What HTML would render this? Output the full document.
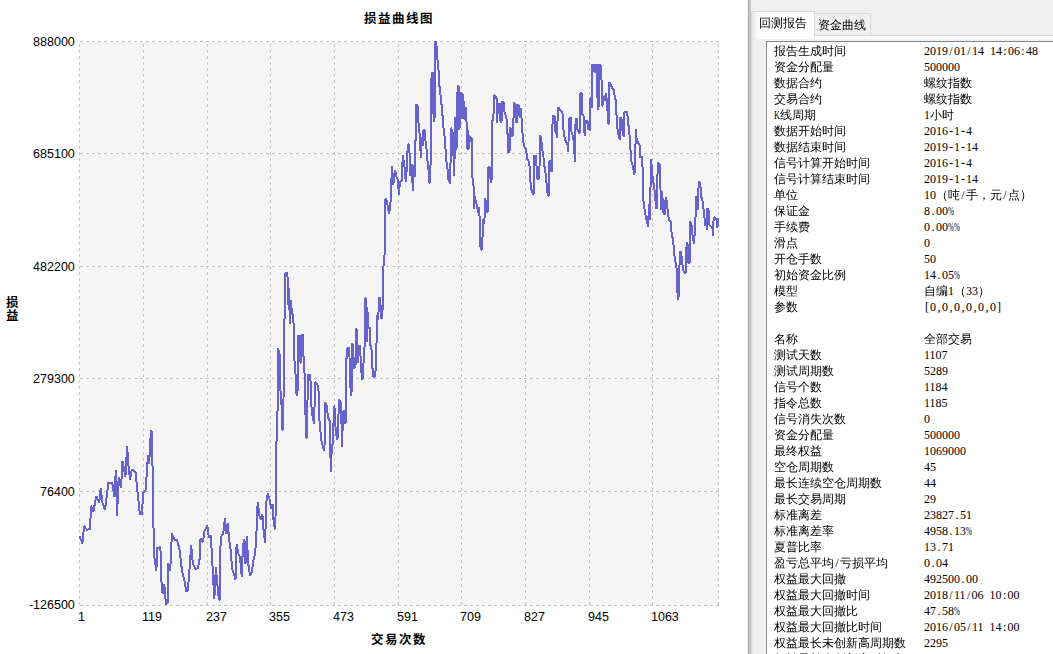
<!DOCTYPE html>
<html lang="zh-CN"><head><meta charset="utf-8"><title>损益曲线图</title>
<style>
html,body{margin:0;padding:0;background:#fff;}
body{width:1053px;height:654px;position:relative;overflow:hidden;font-family:"Liberation Sans","Noto Sans CJK SC",sans-serif;color:#000;}
.chart{position:absolute;left:0;top:0;}
.t{position:absolute;white-space:nowrap;}
.yl{font-size:12.5px;line-height:14px;height:14px;width:60px;text-align:right;left:14.8px;}
.xl{font-size:12.5px;line-height:14px;height:14px;top:610px;}
.ttl{font-family:"Liberation Sans","Noto Sans CJK SC",sans-serif;font-weight:700;font-size:12.5px;letter-spacing:1.5px;line-height:14px;}
.split{position:absolute;left:748px;top:0;width:3px;height:654px;background:linear-gradient(90deg,#a4a4a4 0,#a4a4a4 1px,#c4c4c4 1px,#c9c9c9 3px);}
.panel{position:absolute;left:751px;top:0;width:302px;height:654px;background:#f0f0f0;overflow:hidden;font-family:"Liberation Serif","WenQuanYi Zen Hei","Noto Serif CJK SC",serif;font-size:12px;}
.pane{position:absolute;left:0;top:35px;width:400px;height:700px;background:linear-gradient(90deg,#e2e2e2 0,#f1f1f1 3px,#f8f8f8 5px,#fff 10px);border:1px solid #dadada;box-sizing:border-box;}
.tab{position:absolute;box-sizing:border-box;border:1px solid #d9d9d9;border-bottom:none;white-space:nowrap;line-height:12px;}
.tab.sel{left:0;top:11px;width:64px;height:26px;background:linear-gradient(90deg,#e6e6e6 0,#f6f6f6 4px,#fff 10px);padding:5px 0 0 7px;z-index:2;}
.tab.off{left:63px;top:13px;width:57px;height:22px;background:#f0f0f0;padding:5px 0 0 3px;}
.dlg{position:absolute;left:4px;top:39px;width:400px;height:700px;background:#f0f0f0;}
.list{position:absolute;left:15px;top:41px;width:400px;height:700px;background:#fff;border:1px solid #828790;box-sizing:border-box;}
.row{position:absolute;left:7px;height:16px;line-height:16px;white-space:nowrap;}
.row span{position:absolute;left:150px;top:0;}
.row b{font-weight:normal;}
.row i{display:inline-block;width:6px;text-align:center;font-style:normal;}
.row i.n{transform:scaleX(.6);transform-origin:0 50%;text-align:left;}
.row i.m{transform:scaleX(.7);transform-origin:0 50%;text-align:left;}
</style></head><body>
<svg class="chart" width="748" height="654" viewBox="0 0 748 654">
<rect x="80" y="42" width="638" height="563" fill="#f5f5f5"/>
<path d="M79.5 605V41M143.5 605V41M207.5 605V41M270.5 605V41M334.5 605V41M398.5 605V41M461.5 605V41M525.5 605V41M589.5 605V41M652.5 605V41M718.5 605V41M80 41.5H719M80 153.5H719M80 266.5H719M80 378.5H719M80 491.5H719M80 605.5H719" fill="none" stroke="#fff" stroke-width="1" shape-rendering="crispEdges"/>
<path d="M79.5 605V41M143.5 605V41M207.5 605V41M270.5 605V41M334.5 605V41M398.5 605V41M461.5 605V41M525.5 605V41M589.5 605V41M652.5 605V41M718.5 605V41M80 41.5H719M80 153.5H719M80 266.5H719M80 378.5H719M80 491.5H719M80 605.5H719" fill="none" stroke="#c4c4c4" stroke-width="1" stroke-dasharray="3 3" shape-rendering="crispEdges"/>
<path d="M79.5 536.2 L82.4 543.5 L84.1 526.0 L87.0 529.8 L90.0 529.0 L91.1 505.7 L93.4 511.5 L96.3 496.1 L99.2 502.8 L100.7 488.3 L102.7 504.3 L105.0 509.5 L108.5 482.5 L112.3 483.3 L114.6 497.0 L115.8 470.0 L117.0 515.9 L118.7 476.7 L121.0 488.3 L122.5 460.7 L125.4 476.7 L127.1 446.1 L128.3 463.6 L130.0 479.6 L131.8 469.4 L135.6 472.3 L137.6 492.6 L139.9 514.4 L141.7 514.4 L143.4 492.6 L145.7 489.7 L148.0 454.9 L149.2 463.6 L150.4 438.9 L151.5 430.2 L152.7 472.3 L153.0 500.0 L153.4 523.5 L154.2 555.5 L156.4 570.6 L157.1 547.9 L160.4 547.1 L161.4 580.7 L162.6 594.2 L164.3 584.1 L166.0 604.3 L167.7 602.6 L168.2 563.1 L170.2 570.6 L171.9 533.6 L174.4 539.5 L176.9 539.5 L179.4 548.8 L182.0 570.6 L184.5 580.7 L186.2 591.7 L187.8 590.8 L189.0 576.5 L191.2 545.4 L192.9 563.9 L195.4 569.0 L197.9 568.1 L199.6 558.9 L200.5 538.7 L203.0 542.0 L204.2 532.0 L207.2 525.2 L208.9 537.8 L210.6 535.3 L211.9 553.8 L213.1 577.4 L214.3 599.2 L215.9 567.3 L217.3 584.1 L219.0 600.1 L219.8 599.2 L220.3 548.8 L221.5 536.2 L223.2 533.6 L224.9 518.5 L226.5 533.6 L227.7 522.7 L229.1 538.7 L230.7 550.5 L232.1 569.0 L234.1 574.9 L235.5 579.9 L236.6 543.7 L238.3 553.8 L240.0 557.2 L241.7 576.5 L242.9 547.1 L244.2 539.5 L245.5 563.9 L246.7 536.2 L248.4 564.8 L250.1 575.7 L251.8 572.3 L253.4 560.6 L255.1 553.8 L256.3 536.2 L257.7 501.7 L259.3 515.1 L261.0 520.2 L262.4 514.3 L263.5 530.3 L265.2 542.9 L266.1 503.1 L267.8 493.5 L269.7 499.9 L271.0 508.5 L272.5 504.2 L273.5 520.0 L274.8 529.4 L275.5 519.0 L275.7 491.3 L276.1 448.5 L277.4 423.9 L277.8 380.0 L278.0 348.5 L279.5 353.4 L280.3 390.0 L281.3 395.0 L282.1 430.3 L283.2 429.2 L283.5 401.4 L283.7 370.3 L283.9 339.5 L284.9 305.7 L285.5 272.9 L286.9 272.9 L287.5 276.9 L288.3 304.7 L288.9 287.8 L289.9 323.6 L290.9 299.8 L291.9 313.7 L293.3 315.7 L293.9 335.5 L294.3 359.4 L295.4 367.3 L295.8 391.8 L297.2 396.1 L297.6 390.0 L297.8 335.5 L299.4 336.5 L299.8 357.4 L300.8 363.4 L301.4 335.5 L303.0 334.5 L303.4 356.4 L304.2 357.4 L304.8 387.2 L305.2 400.3 L306.0 437.8 L307.2 437.8 L307.6 390.0 L307.8 375.3 L310.2 374.3 L310.7 385.2 L311.7 412.1 L314.2 423.9 L315.0 382.1 L317.4 384.3 L318.9 392.8 L319.6 425.0 L321.7 442.1 L323.9 450.6 L324.6 444.2 L324.9 402.5 L326.6 405.7 L328.1 417.5 L329.6 420.7 L330.3 450.6 L330.9 472.1 L331.8 446.4 L333.1 443.2 L333.9 405.7 L335.2 410.0 L335.6 431.4 L337.3 439.9 L338.2 431.4 L338.8 399.3 L341.0 403.6 L342.1 447.4 L342.7 423.9 L343.1 412.1 L344.2 410.0 L345.3 423.9 L345.7 422.8 L345.9 359.4 L347.1 358.4 L347.5 348.5 L349.1 347.5 L349.5 357.4 L350.3 385.0 L351.0 396.0 L351.7 390.0 L351.9 343.5 L353.1 344.5 L353.9 368.3 L355.5 367.3 L355.9 328.6 L357.1 329.6 L357.9 363.4 L358.5 345.5 L359.8 345.5 L361.0 363.4 L361.8 379.3 L363.0 378.3 L363.4 363.4 L364.4 359.4 L365.0 297.8 L366.4 298.8 L367.0 341.5 L367.8 311.7 L368.4 327.6 L369.8 327.6 L370.4 345.5 L371.4 347.5 L372.4 367.3 L373.4 377.3 L375.3 376.3 L376.3 350.4 L377.3 314.7 L378.3 319.6 L378.9 297.8 L380.3 297.8 L380.9 318.6 L382.3 317.6 L382.9 296.8 L383.3 268.0 L384.0 260.3 L384.8 252.3 L385.3 198.6 L386.9 200.6 L387.9 208.6 L389.3 213.5 L390.9 198.6 L391.9 165.8 L393.3 184.7 L394.9 169.8 L396.5 176.8 L397.9 179.8 L398.9 194.7 L399.8 182.7 L401.8 179.8 L402.8 154.9 L404.4 165.8 L405.8 181.7 L406.8 167.8 L407.8 144.0 L409.2 145.0 L410.4 175.8 L411.8 163.9 L412.8 190.7 L413.8 164.8 L414.6 176.8 L415.2 140.6 L416.1 139.8 L416.5 104.4 L417.5 105.3 L418.2 120.4 L419.3 130.5 L420.2 143.1 L420.8 157.9 L421.5 137.2 L422.7 146.0 L423.5 129.7 L424.6 129.7 L425.2 138.9 L426.6 150.0 L427.1 157.9 L428.3 165.8 L429.1 182.7 L430.3 182.7 L430.6 157.9 L431.0 115.4 L431.6 72.5 L433.0 73.3 L433.6 121.3 L434.5 120.4 L434.9 42.0 L436.3 42.2 L437.3 59.9 L438.4 60.7 L438.7 85.1 L440.0 87.6 L440.4 93.5 L442.1 110.3 L443.7 130.5 L445.4 142.3 L445.6 154.9 L447.6 169.8 L448.5 179.8 L450.1 183.7 L450.4 177.8 L450.8 128.0 L451.7 129.2 L453.1 134.7 L453.6 160.0 L454.0 175.8 L454.5 160.0 L455.1 117.5 L455.6 148.0 L456.0 118.0 L456.5 149.8 L457.0 117.0 L457.2 116.8 L457.6 85.8 L458.6 86.2 L459.0 94.8 L459.3 130.0 L459.8 96.0 L460.1 128.0 L460.4 92.0 L461.0 118.0 L461.5 92.5 L462.0 119.0 L462.5 93.0 L463.0 119.0 L463.4 94.8 L463.9 119.0 L464.3 106.5 L464.9 119.5 L465.4 107.0 L466.0 119.5 L466.3 107.2 L466.6 128.0 L467.0 148.9 L467.5 129.0 L468.0 149.5 L468.4 130.0 L468.9 149.0 L469.3 134.7 L469.8 141.6 L470.3 136.0 L470.9 141.6 L471.4 137.5 L471.9 141.6 L472.3 138.1 L472.5 177.8 L473.4 179.8 L474.0 208.6 L474.4 195.7 L476.4 203.6 L478.4 212.6 L479.4 207.6 L479.9 243.4 L481.3 250.3 L482.3 247.3 L482.9 219.5 L484.3 223.5 L485.3 197.6 L486.7 212.6 L487.9 211.6 L488.3 166.8 L489.9 167.8 L490.7 182.7 L491.7 178.8 L492.0 120.4 L493.4 119.6 L493.9 95.2 L495.2 96.0 L496.7 98.6 L497.2 122.9 L497.9 104.4 L499.6 103.6 L500.6 122.9 L501.5 122.1 L501.8 101.9 L503.7 101.9 L504.6 112.9 L506.4 117.5 L507.3 128.5 L508.3 152.4 L509.5 151.5 L510.1 127.6 L511.4 129.4 L511.9 136.8 L513.2 135.0 L513.8 102.8 L515.6 103.8 L516.1 123.0 L517.4 121.2 L517.8 104.7 L519.3 106.5 L519.8 118.4 L520.6 108.3 L521.7 119.4 L522.4 132.2 L523.5 143.2 L524.8 147.8 L526.1 149.6 L527.2 158.8 L528.4 160.6 L529.7 167.1 L530.8 187.2 L532.7 193.7 L533.9 193.7 L534.5 155.1 L536.0 156.1 L536.7 168.9 L537.6 179.9 L539.4 178.1 L539.8 135.9 L541.3 136.8 L541.8 148.7 L543.1 152.4 L544.0 163.4 L545.5 172.6 L546.8 185.4 L547.7 195.5 L549.2 195.5 L549.5 160.6 L550.6 161.6 L551.4 171.7 L552.1 170.7 L552.5 123.9 L553.2 115.7 L554.7 116.6 L555.4 132.2 L556.5 133.1 L557.2 137.7 L557.8 107.4 L559.1 108.3 L560.6 111.1 L562.4 112.0 L563.1 124.9 L563.9 134.0 L565.1 139.5 L566.4 142.3 L567.5 145.0 L568.3 151.5 L569.0 119.4 L570.6 117.5 L571.6 133.1 L573.0 135.9 L573.8 141.4 L574.9 161.6 L575.6 119.4 L576.7 118.4 L577.4 129.4 L578.9 133.1 L579.8 132.2 L580.4 92.8 L581.7 93.7 L582.2 113.9 L583.5 115.7 L584.0 126.7 L584.8 135.9 L585.5 120.3 L587.2 121.2 L588.1 129.4 L589.0 121.2 L589.9 131.3 L590.3 98.3 L591.4 98.3 L591.7 108.3 L591.8 75.3 L592.4 64.6 L593.9 64.6 L594.6 73.2 L595.4 64.6 L596.7 64.6 L597.1 80.7 L597.8 109.6 L598.8 106.4 L599.3 64.6 L600.6 65.7 L601.4 75.3 L602.1 106.4 L603.1 103.2 L604.0 95.7 L605.3 101.0 L606.1 93.5 L607.4 108.5 L608.3 123.5 L609.1 123.5 L609.5 81.8 L611.0 86.0 L612.5 88.2 L613.8 89.3 L614.7 96.7 L616.0 101.0 L616.8 123.5 L618.1 133.1 L619.6 139.6 L620.2 117.1 L621.7 119.2 L622.8 135.3 L623.9 136.4 L624.5 111.7 L627.1 111.7 L628.2 123.5 L629.2 129.9 L630.3 147.1 L631.4 162.0 L633.1 166.3 L634.0 174.9 L635.2 170.6 L635.7 128.9 L636.7 140.6 L638.2 142.8 L639.5 144.9 L640.4 157.8 L642.1 156.7 L643.2 183.5 L643.4 200.0 L644.7 210.7 L646.4 219.2 L648.1 226.7 L649.0 204.3 L649.8 220.3 L650.7 178.6 L651.1 158.8 L652.4 174.9 L653.9 186.1 L655.0 193.5 L656.0 208.5 L657.3 207.5 L657.6 162.0 L659.6 164.2 L660.5 188.8 L660.7 209.6 L661.4 190.3 L662.5 197.8 L663.5 212.8 L664.8 215.0 L665.7 196.8 L666.9 202.1 L667.8 211.7 L668.9 220.3 L671.0 221.4 L671.7 236.4 L673.2 238.5 L673.8 251.4 L675.3 261.0 L676.4 265.3 L677.4 292.0 L678.1 299.5 L678.9 294.2 L679.8 251.4 L681.1 252.4 L682.4 264.2 L683.9 272.8 L686.0 272.8 L686.6 242.8 L687.5 243.9 L688.1 262.1 L689.6 263.1 L690.1 221.4 L691.4 223.5 L692.4 234.2 L693.9 243.9 L694.8 232.1 L695.6 215.0 L696.1 196.8 L697.8 196.8 L698.2 209.6 L698.6 181.8 L700.3 182.8 L701.0 195.7 L702.5 201.0 L703.8 211.7 L705.3 225.7 L706.3 220.3 L707.0 229.9 L707.4 208.5 L708.5 209.6 L709.3 224.6 L711.0 226.7 L712.3 226.7 L713.2 236.4 L713.6 217.1 L715.3 218.2 L716.6 219.2 L717.5 227.8 L718.1 218.2" fill="none" stroke="#6663cc" stroke-width="2" stroke-linejoin="bevel" stroke-linecap="butt" shape-rendering="crispEdges"/>
</svg>
<div class="t ttl" style="left:364px;top:12px;">损益曲线图</div>
<div class="t ttl" style="left:371px;top:633px;">交易次数</div>
<div class="t ttl" style="left:6px;top:297px;letter-spacing:0;line-height:13px;white-space:normal;width:13px;">损<br>益</div>
<div class="t yl" style="top:34.5px;">888000</div>
<div class="t yl" style="top:146.5px;">685100</div>
<div class="t yl" style="top:259.5px;">482200</div>
<div class="t yl" style="top:371.5px;">279300</div>
<div class="t yl" style="top:484.5px;">76400</div>
<div class="t yl" style="top:597.5px;">-126500</div>
<div class="t xl" style="left:78.0px;">1</div>
<div class="t xl" style="left:142.0px;">119</div>
<div class="t xl" style="left:206.0px;">237</div>
<div class="t xl" style="left:269.0px;">355</div>
<div class="t xl" style="left:333.0px;">473</div>
<div class="t xl" style="left:397.0px;">591</div>
<div class="t xl" style="left:460.0px;">709</div>
<div class="t xl" style="left:524.0px;">827</div>
<div class="t xl" style="left:588.0px;">945</div>
<div class="t xl" style="left:651.0px;">1063</div>
<div class="split"></div>
<div class="panel">
<div class="pane"></div>
<div class="tab sel">回测报告</div><div class="tab off">资金曲线</div>
<div class="dlg"></div>
<div class="list">
<div class="row" style="top:1px;">报告生成时间<span><b>2019<i>/</i>01<i>/</i>14<i>&nbsp;</i>14<i>:</i>06<i>:</i>48</b></span></div>
<div class="row" style="top:17px;">资金分配量<span><b>500000</b></span></div>
<div class="row" style="top:33px;">数据合约<span>螺纹指数</span></div>
<div class="row" style="top:49px;">交易合约<span>螺纹指数</span></div>
<div class="row" style="top:65px;"><b><i class="m">K</i></b>线周期<span><b>1</b>小时</span></div>
<div class="row" style="top:81px;">数据开始时间<span><b>2016<i>-</i>1<i>-</i>4</b></span></div>
<div class="row" style="top:97px;">数据结束时间<span><b>2019<i>-</i>1<i>-</i>14</b></span></div>
<div class="row" style="top:113px;">信号计算开始时间<span><b>2016<i>-</i>1<i>-</i>4</b></span></div>
<div class="row" style="top:129px;">信号计算结束时间<span><b>2019<i>-</i>1<i>-</i>14</b></span></div>
<div class="row" style="top:145px;">单位<span><b>10</b>（吨<b><i>/</i></b>手，元<b><i>/</i></b>点）</span></div>
<div class="row" style="top:161px;">保证金<span><b>8<i>.</i>00<i class="n">%</i></b></span></div>
<div class="row" style="top:177px;">手续费<span><b>0<i>.</i>00<i class="n">%</i><i class="n">%</i></b></span></div>
<div class="row" style="top:193px;">滑点<span><b>0</b></span></div>
<div class="row" style="top:209px;">开仓手数<span><b>50</b></span></div>
<div class="row" style="top:225px;">初始资金比例<span><b>14<i>.</i>05<i class="n">%</i></b></span></div>
<div class="row" style="top:241px;">模型<span>自编<b>1</b>（<b>33</b>）</span></div>
<div class="row" style="top:257px;">参数<span><b><i>[</i>0<i>,</i>0<i>,</i>0<i>,</i>0<i>,</i>0<i>,</i>0<i>]</i></b></span></div>
<div class="row" style="top:289px;">名称<span>全部交易</span></div>
<div class="row" style="top:305px;">测试天数<span><b>1107</b></span></div>
<div class="row" style="top:321px;">测试周期数<span><b>5289</b></span></div>
<div class="row" style="top:337px;">信号个数<span><b>1184</b></span></div>
<div class="row" style="top:353px;">指令总数<span><b>1185</b></span></div>
<div class="row" style="top:369px;">信号消失次数<span><b>0</b></span></div>
<div class="row" style="top:385px;">资金分配量<span><b>500000</b></span></div>
<div class="row" style="top:401px;">最终权益<span><b>1069000</b></span></div>
<div class="row" style="top:417px;">空仓周期数<span><b>45</b></span></div>
<div class="row" style="top:433px;">最长连续空仓周期数<span><b>44</b></span></div>
<div class="row" style="top:449px;">最长交易周期<span><b>29</b></span></div>
<div class="row" style="top:465px;">标准离差<span><b>23827<i>.</i>51</b></span></div>
<div class="row" style="top:481px;">标准离差率<span><b>4958<i>.</i>13<i class="n">%</i></b></span></div>
<div class="row" style="top:497px;">夏普比率<span><b>13<i>.</i>71</b></span></div>
<div class="row" style="top:513px;">盈亏总平均<b><i>/</i></b>亏损平均<span><b>0<i>.</i>04</b></span></div>
<div class="row" style="top:529px;">权益最大回撤<span><b>492500<i>.</i>00</b></span></div>
<div class="row" style="top:545px;">权益最大回撤时间<span><b>2018<i>/</i>11<i>/</i>06<i>&nbsp;</i>10<i>:</i>00</b></span></div>
<div class="row" style="top:561px;">权益最大回撤比<span><b>47<i>.</i>58<i class="n">%</i></b></span></div>
<div class="row" style="top:577px;">权益最大回撤比时间<span><b>2016<i>/</i>05<i>/</i>11<i>&nbsp;</i>14<i>:</i>00</b></span></div>
<div class="row" style="top:593px;">权益最长未创新高周期数<span><b>2295</b></span></div>
<div class="row" style="top:609px;">权益最长未创新高时间段<span><b>2016<i>/</i>05<i>/</i>11<i>&nbsp;</i>14<i>:</i>00</b></span></div>
</div></div>
</body></html>
